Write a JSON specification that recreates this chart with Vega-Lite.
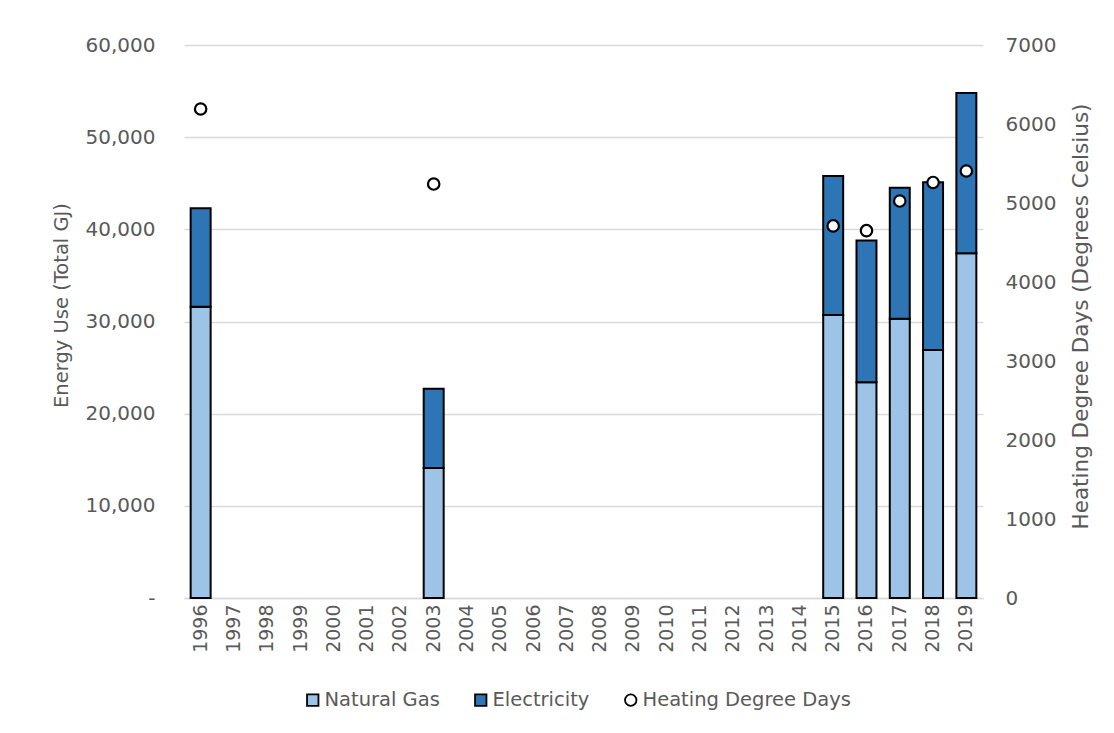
{
  "$schema": "https://vega.github.io/schema/vega-lite/v6.json",
  "width": 799,
  "height": 553,
  "autosize": {"type": "none"},
  "padding": {"left": 184, "top": 45, "right": 131, "bottom": 135},
  "background": "white",
  "config": {
    "font": "DejaVu Sans",
    "view": {"stroke": null},
    "axis": {"labelColor": "#595959", "titleColor": "#595959", "labelFont": "DejaVu Sans", "titleFont": "DejaVu Sans", "labelFontSize": 20, "titleFontSize": 19.5, "titleFontWeight": "normal"},
    "legend": {"labelColor": "#595959", "labelFontSize": 19.5, "labelFont": "DejaVu Sans", "labelLimit": 400}
  },
  "data": {
    "values": [
      {"year": "1996", "Natural Gas": 31600, "Electricity": 10700, "HDD": 6190},
      {"year": "1997", "Natural Gas": null, "Electricity": null, "HDD": null},
      {"year": "1998", "Natural Gas": null, "Electricity": null, "HDD": null},
      {"year": "1999", "Natural Gas": null, "Electricity": null, "HDD": null},
      {"year": "2000", "Natural Gas": null, "Electricity": null, "HDD": null},
      {"year": "2001", "Natural Gas": null, "Electricity": null, "HDD": null},
      {"year": "2002", "Natural Gas": null, "Electricity": null, "HDD": null},
      {"year": "2003", "Natural Gas": 14100, "Electricity": 8600, "HDD": 5240},
      {"year": "2004", "Natural Gas": null, "Electricity": null, "HDD": null},
      {"year": "2005", "Natural Gas": null, "Electricity": null, "HDD": null},
      {"year": "2006", "Natural Gas": null, "Electricity": null, "HDD": null},
      {"year": "2007", "Natural Gas": null, "Electricity": null, "HDD": null},
      {"year": "2008", "Natural Gas": null, "Electricity": null, "HDD": null},
      {"year": "2009", "Natural Gas": null, "Electricity": null, "HDD": null},
      {"year": "2010", "Natural Gas": null, "Electricity": null, "HDD": null},
      {"year": "2011", "Natural Gas": null, "Electricity": null, "HDD": null},
      {"year": "2012", "Natural Gas": null, "Electricity": null, "HDD": null},
      {"year": "2013", "Natural Gas": null, "Electricity": null, "HDD": null},
      {"year": "2014", "Natural Gas": null, "Electricity": null, "HDD": null},
      {"year": "2015", "Natural Gas": 30700, "Electricity": 15100, "HDD": 4710},
      {"year": "2016", "Natural Gas": 23400, "Electricity": 15400, "HDD": 4650},
      {"year": "2017", "Natural Gas": 30300, "Electricity": 14200, "HDD": 5025},
      {"year": "2018", "Natural Gas": 26900, "Electricity": 18200, "HDD": 5260},
      {"year": "2019", "Natural Gas": 37400, "Electricity": 17400, "HDD": 5405}
    ]
  },
  "encoding": {
    "x": {
      "field": "year", "type": "ordinal",
      "scale": {"domain": ["1996","1997","1998","1999","2000","2001","2002","2003","2004","2005","2006","2007","2008","2009","2010","2011","2012","2013","2014","2015","2016","2017","2018","2019"], "paddingInner": 0.4, "paddingOuter": 0.2},
      "axis": {"title": null, "labelAngle": -90, "labelPadding": 6, "ticks": false, "domainColor": "#D9D9D9", "domainWidth": 1.5, "labelFontSize": 19}
    }
  },
  "layer": [
    {
      "transform": [{"fold": ["Natural Gas", "Electricity"], "as": ["type", "value"]}],
      "mark": {"type": "bar", "stroke": "black", "strokeWidth": 2},
      "encoding": {
        "y": {
          "field": "value", "type": "quantitative", "stack": "zero",
          "scale": {"domain": [0, 60000], "nice": false},
          "axis": {"title": "Energy Use  (Total GJ)", "titleY": 260, "values": [0, 10000, 20000, 30000, 40000, 50000, 60000], "labelOverlap": false, "labelExpr": "datum.value == 0 ? '-' : format(datum.value, ',')", "ticks": false, "domain": false, "labelPadding": 29, "titlePadding": 14, "gridColor": "#D9D9D9", "gridWidth": 1.5}
        },
        "color": {
          "field": "type", "type": "nominal",
          "scale": {"domain": ["Natural Gas", "Electricity", "Heating Degree Days"], "range": ["#9DC3E6", "#2E75B6", "#FFFFFF"]},
          "legend": {
            "title": null, "orient": "none", "direction": "horizontal", "legendX": 119, "legendY": 645,
            "symbolStrokeColor": "black", "symbolStrokeWidth": 1.8, "symbolSize": 130, "symbolOpacity": 1,
            "columnPadding": 31, "labelOffset": 2,
            "encode": {"symbols": {"update": {"shape": {"signal": "datum.value == 'Heating Degree Days' ? 'circle' : 'square'"}}}}
          }
        },
        "order": {"field": "type", "sort": "descending"}
      }
    },
    {
      "mark": {"type": "point", "filled": true, "fill": "white", "stroke": "black", "strokeWidth": 2.2, "size": 130, "opacity": 1},
      "encoding": {
        "y": {
          "field": "HDD", "type": "quantitative",
          "scale": {"domain": [0, 7000], "nice": false},
          "axis": {"orient": "right", "title": "Heating Degree Days (Degrees Celsius)", "titleAngle": -90, "titleFontSize": 21.5, "titleY": 271, "values": [0, 1000, 2000, 3000, 4000, 5000, 6000, 7000], "labelOverlap": false, "format": "d", "grid": false, "ticks": false, "domain": false, "labelPadding": 22, "titlePadding": 37}
        },
        "color": {"datum": "Heating Degree Days"}
      }
    }
  ],
  "resolve": {"scale": {"y": "independent"}}
}
